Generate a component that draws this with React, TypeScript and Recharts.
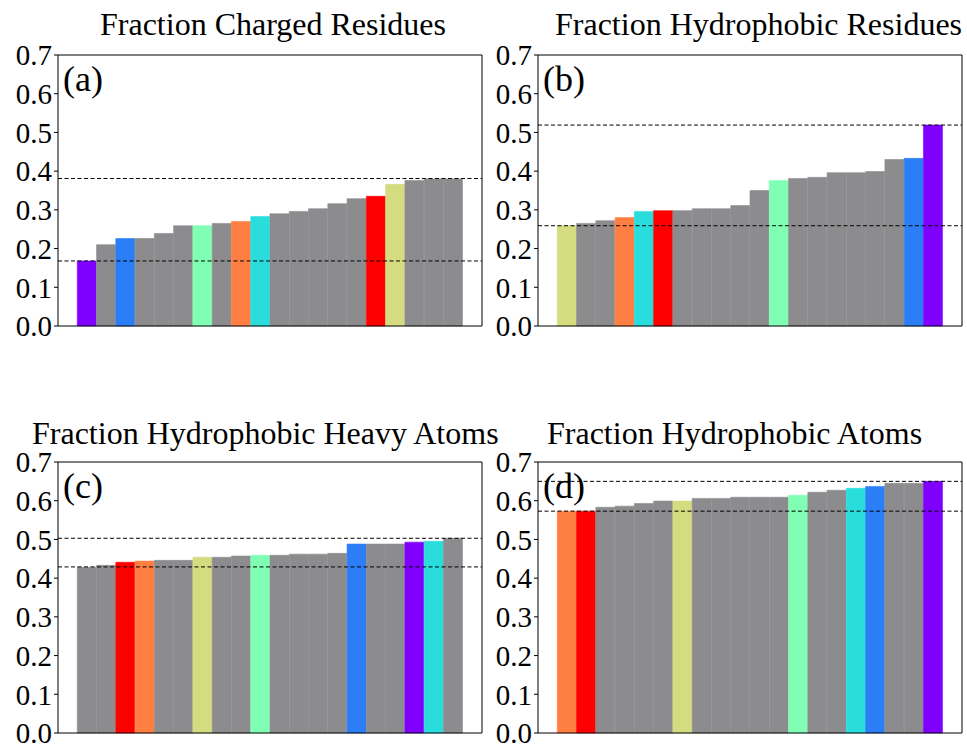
import React from 'react';
import { BarChart, Bar, XAxis, YAxis, ReferenceLine, Cell } from 'recharts';

// categories (20 proteins, sorted per panel)
const categories = ['p01','p02','p03','p04','p05','p06','p07','p08','p09','p10','p11','p12','p13','p14','p15','p16','p17','p18','p19','p20'];
const yTicks = [0, 0.1, 0.2, 0.3, 0.4, 0.5, 0.6, 0.7];

const titles = ['Fraction Charged Residues', 'Fraction Hydrophobic Residues', 'Fraction Hydrophobic Heavy Atoms', 'Fraction Hydrophobic Atoms'];
const panelLabels = ['(a)', '(b)', '(c)', '(d)'];

// panel (a)
const valuesA = [0.168,0.210,0.226,0.226,0.239,0.259,0.259,0.265,0.270,0.283,0.290,0.296,0.303,0.316,0.329,0.335,0.366,0.376,0.380,0.380];
const groupsA = ['purple','gray','blue','gray','gray','gray','mint','gray','orange','cyan','gray','gray','gray','gray','gray','red','khaki','gray','gray','gray'];
const refsA = [0.168, 0.381];

// panel (b)
const valuesB = [0.259,0.265,0.272,0.280,0.296,0.298,0.298,0.303,0.303,0.311,0.350,0.376,0.381,0.384,0.396,0.396,0.399,0.430,0.433,0.519];
const groupsB = ['khaki','gray','gray','orange','cyan','red','gray','gray','gray','gray','gray','mint','gray','gray','gray','gray','gray','gray','blue','purple'];
const refsB = [0.259, 0.519];

// panel (c)
const valuesC = [0.428,0.433,0.441,0.444,0.446,0.446,0.454,0.454,0.457,0.459,0.459,0.462,0.462,0.464,0.488,0.488,0.488,0.493,0.495,0.503];
const groupsC = ['gray','gray','red','orange','gray','gray','khaki','gray','gray','mint','gray','gray','gray','gray','blue','gray','gray','purple','cyan','gray'];
const refsC = [0.429, 0.503];

// panel (d)
const valuesD = [0.573,0.573,0.583,0.586,0.593,0.599,0.599,0.606,0.606,0.609,0.609,0.609,0.614,0.622,0.627,0.632,0.637,0.645,0.645,0.650];
const groupsD = ['orange','red','gray','gray','gray','gray','khaki','gray','gray','gray','gray','gray','mint','gray','gray','cyan','blue','gray','gray','purple'];
const refsD = [0.573, 0.650];

const palette: Record<string, string> = {
  gray: '#8c8c8e',
  purple: '#8000ff',
  blue: '#2c7ef7',
  cyan: '#2adddd',
  mint: '#80ffb4',
  khaki: '#d5dc80',
  orange: '#ff7f43',
  red: '#ff0000',
};

const SERIF = '"Liberation Serif", "Times New Roman", serif';

type PanelProps = {
  values: number[];
  groups: string[];
  refs: number[];
  title: string;
  label: string;
  titleX: number;
  titleTop: number;
};

const PLOT_W = 424;
const PLOT_H = 271;
const CH_W = 58 + PLOT_W + 6;
const CH_H = 55 + PLOT_H + 20;
const BAND_PAD = PLOT_W / 22;

function Panel({ values, groups, refs, title, label, titleX, titleTop }: PanelProps) {
  const data = categories.map((c, i) => ({ id: c, v: values[i], g: groups[i] }));
  return (
    <div style={{ position: 'relative', width: CH_W, height: CH_H }}>
      <BarChart
        width={CH_W}
        height={CH_H}
        data={data}
        margin={{ top: 54, right: 5, bottom: 19, left: 3 }}
        barCategoryGap={0}
        barGap={0}
      >
        <XAxis
          dataKey="id"
          height={1}
          tick={false}
          tickLine={false}
          axisLine={{ stroke: '#000' }}
          padding={{ left: BAND_PAD, right: BAND_PAD }}
        />
        <XAxis
          xAxisId="top"
          orientation="top"
          dataKey="id"
          height={1}
          tick={false}
          tickLine={false}
          axisLine={{ stroke: '#000' }}
        />
        <YAxis
          width={55}
          domain={[0, 0.7]}
          ticks={yTicks}
          interval={0}
          tickFormatter={(t: number) => t.toFixed(1)}
          tickSize={4}
          axisLine={{ stroke: '#000' }}
          tickLine={{ stroke: '#000' }}
          tick={{ fill: '#000', fontSize: 29, fontFamily: SERIF }}
        />
        <YAxis
          yAxisId="right"
          orientation="right"
          width={1}
          tick={false}
          tickLine={false}
          axisLine={{ stroke: '#000' }}
        />
        <Bar dataKey="v" isAnimationActive={false}>
          {data.map((d, i) => (
            <Cell key={i} fill={palette[d.g]} stroke={palette[d.g]} strokeWidth={0.6} />
          ))}
        </Bar>
        {refs.map((r, i) => (
          <ReferenceLine key={i} y={r} stroke="#000" strokeWidth={1} strokeDasharray="4 2.5" />
        ))}
      </BarChart>
      <div style={{ position: 'absolute', left: titleX, top: titleTop, fontFamily: SERIF, fontSize: 32, lineHeight: '32px', whiteSpace: 'nowrap', color: '#000' }}>
        {title}
      </div>
      <div style={{ position: 'absolute', left: 63, top: 61, fontFamily: SERIF, fontSize: 36, lineHeight: '36px', whiteSpace: 'nowrap', color: '#000' }}>
        {label}
      </div>
    </div>
  );
}

export default function App() {
  return (
    <div style={{ width: 967, height: 746, overflow: 'hidden', display: 'grid', gridTemplateColumns: '480px 487px', gridTemplateRows: '407px 339px' }}>
      <style>{'html,body{margin:0;padding:0;overflow:hidden;}'}</style>
      <Panel values={valuesA} groups={groupsA} refs={refsA} title={titles[0]} label={panelLabels[0]} titleX={100} titleTop={8} />
      <Panel values={valuesB} groups={groupsB} refs={refsB} title={titles[1]} label={panelLabels[1]} titleX={75} titleTop={8} />
      <Panel values={valuesC} groups={groupsC} refs={refsC} title={titles[2]} label={panelLabels[2]} titleX={32} titleTop={10} />
      <Panel values={valuesD} groups={groupsD} refs={refsD} title={titles[3]} label={panelLabels[3]} titleX={67} titleTop={10} />
    </div>
  );
}
